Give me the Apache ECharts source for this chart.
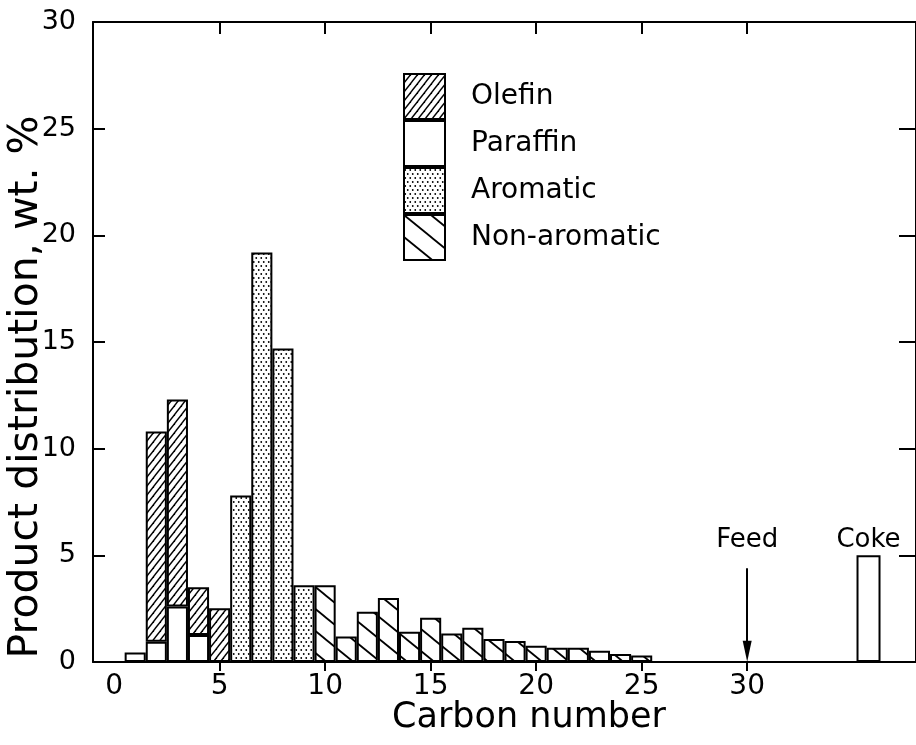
<!DOCTYPE html>
<html>
<head>
<meta charset="utf-8">
<script src="https://cdn.jsdelivr.net/npm/echarts@6/dist/echarts.min.js"></script>
<style>
html, body { margin: 0; padding: 0; background: #fff; }
#chart { width: 916px; height: 745px; }
</style>
</head>
<body>
<div id="chart"></div>
<script>
// carbon numbers and wt.% per product type
var carbon = [1, 2, 3, 4, 5, 6, 7, 8, 9, 10, 11, 12, 13, 14, 15, 16, 17, 18, 19, 20, 21, 22, 23, 24, 25];
var paraffin = [0.45, 0.95, 2.6, 1.27, null, null, null, null, null, null, null, null, null, null, null, null, null, null, null, null, null, null, null, null, null];
var olefin = [null, 9.85, 9.7, 2.23, 2.52, null, null, null, null, null, null, null, null, null, null, null, null, null, null, null, null, null, null, null, null];
var aromatic = [null, null, null, null, null, 7.8, 19.2, 14.7, 3.6, null, null, null, null, null, null, null, null, null, null, null, null, null, null, null, null];
var nonAromatic = [null, null, null, null, null, null, null, null, null, 3.6, 1.19, 2.36, 3.0, 1.42, 2.08, 1.34, 1.61, 1.08, 0.98, 0.76, 0.67, 0.67, 0.53, 0.38, 0.3];
var cokeX = [35.75];
var coke = [5.0];
var feedX = 30;
var xLabels = [0, 5, 10, 15, 20, 25, 30];
var xTicks = [5, 10, 15, 20, 25, 30];

var FONT = "DejaVu Sans";
var X_MIN = -1, X_MAX = 38;

// 横轴类目 -1 ~ 38
var cats = [];
for (var c = X_MIN; c <= X_MAX; c++) cats.push(String(c));

// 填充图案
function hatch(w, h, up, lw) {
    var cv = document.createElement("canvas");
    cv.width = w; cv.height = h;
    var g = cv.getContext("2d");
    g.fillStyle = "#fff";
    g.fillRect(0, 0, w, h);
    g.strokeStyle = "#000";
    g.lineWidth = lw;
    for (var k = -1; k <= 1; k++) {
        g.beginPath();
        if (up) {
            g.moveTo(k * w - w, 2 * h);
            g.lineTo(k * w + 2 * w, -h);
        } else {
            g.moveTo(k * w - w, -h);
            g.lineTo(k * w + 2 * w, 2 * h);
        }
        g.stroke();
    }
    return { image: cv, repeat: "repeat" };
}
function dots() {
    var cv = document.createElement("canvas");
    cv.width = 5; cv.height = 8;
    var g = cv.getContext("2d");
    g.fillStyle = "#fff";
    g.fillRect(0, 0, 5, 8);
    g.fillStyle = "#000";
    g.beginPath(); g.arc(1.25, 2, 0.9, 0, Math.PI * 2); g.fill();
    g.beginPath(); g.arc(3.75, 6, 0.9, 0, Math.PI * 2); g.fill();
    return { image: cv, repeat: "repeat" };
}

function onCats(values) {
    return cats.map(function (s) {
        var i = carbon.indexOf(+s);
        return i < 0 ? null : values[i];
    });
}

function barSeries(name, values, fill) {
    return {
        name: name,
        type: "bar",
        stack: "total",
        barWidth: "100%",
        silent: true,
        itemStyle: { color: fill, borderColor: "#000", borderWidth: 2 },
        data: onCats(values)
    };
}

function inList(list) {
    return function (index, value) { return list.indexOf(+value) >= 0; };
}

var chart = echarts.init(document.getElementById("chart"));
var axisLine = { show: true, onZero: false, lineStyle: { color: "#000", width: 2 } };
var tickStyle = { color: "#000", width: 2 };

chart.setOption({
    animation: false,
    backgroundColor: "#fff",
    grid: { left: 93, right: -4, top: 22, bottom: 83 },
    legend: {
        data: ["Olefin", "Paraffin", "Aromatic", "Non-aromatic"],
        orient: "vertical",
        left: 403,
        top: 73,
        padding: 0,
        itemGap: 0,
        itemWidth: 41,
        itemHeight: 45,
        icon: "rect",
        selectedMode: false,
        textStyle: { fontFamily: FONT, fontSize: 28, color: "#000", padding: [0, 0, 0, 21] }
    },
    xAxis: [
        {
            type: "category",
            data: cats,
            boundaryGap: false,
            position: "bottom",
            axisLine: axisLine,
            splitLine: { show: false },
            axisTick: { show: true, inside: false, length: 9, interval: inList(xTicks), lineStyle: tickStyle },
            axisLabel: { interval: inList(xLabels), fontFamily: FONT, fontSize: 28, color: "#000", margin: 11 }
        },
        {
            type: "value",
            min: X_MIN,
            max: X_MAX,
            position: "top",
            axisLine: axisLine,
            splitLine: { show: false },
            axisTick: { show: true, inside: true, length: 12, customValues: xTicks, lineStyle: tickStyle },
            axisLabel: { show: false }
        }
    ],
    yAxis: [
        {
            type: "value",
            min: 0,
            max: 30,
            interval: 5,
            position: "left",
            axisLine: axisLine,
            splitLine: { show: false },
            axisTick: { show: true, inside: true, length: 12, lineStyle: tickStyle },
            axisLabel: { fontFamily: FONT, fontSize: 27, color: "#000", margin: 17 }
        },
        {
            type: "value",
            min: 0,
            max: 30,
            interval: 5,
            position: "right",
            axisLine: axisLine,
            splitLine: { show: false },
            axisTick: { show: true, inside: true, length: 17, lineStyle: tickStyle },
            axisLabel: { show: false }
        }
    ],
    graphic: [
        {
            type: "text",
            x: 26,
            y: 387,
            rotation: Math.PI / 2,
            style: { text: "Product distribution, wt. %", fontFamily: FONT, fontSize: 41, fill: "#000", align: "center", verticalAlign: "middle" }
        },
        {
            type: "text",
            x: 529,
            y: 718,
            style: { text: "Carbon number", fontFamily: FONT, fontSize: 35, fill: "#000", align: "center", verticalAlign: "middle" }
        }
    ],
    series: [
        barSeries("Paraffin", paraffin, "#fff"),
        barSeries("Olefin", olefin, hatch(7, 9, true, 1.4)),
        barSeries("Aromatic", aromatic, dots()),
        barSeries("Non-aromatic", nonAromatic, hatch(27, 22, false, 1.8)),
        {
            name: "Coke",
            type: "bar",
            xAxisIndex: 1,
            barWidth: 24,
            silent: true,
            itemStyle: { color: "#fff", borderColor: "#000", borderWidth: 2 },
            data: cokeX.map(function (x, i) { return [x, coke[i]]; }),
            markLine: {
                silent: true,
                symbol: ["none", "triangle"],
                symbolSize: [9, 21],
                lineStyle: { color: "#000", width: 2, type: "solid" },
                label: { show: false },
                data: [[{ coord: [feedX, 4.4] }, { coord: [feedX, 0.5] }]]
            },
            markPoint: {
                silent: true,
                symbol: "circle",
                symbolSize: 0,
                label: { show: true, position: "inside", formatter: "{b}", fontFamily: FONT, fontSize: 26, color: "#000" },
                data: [
                    { name: "Feed", coord: [feedX, 5.7] },
                    { name: "Coke", coord: [cokeX[0], 5.7] }
                ]
            }
        }
    ]
});
</script>
</body>
</html>
